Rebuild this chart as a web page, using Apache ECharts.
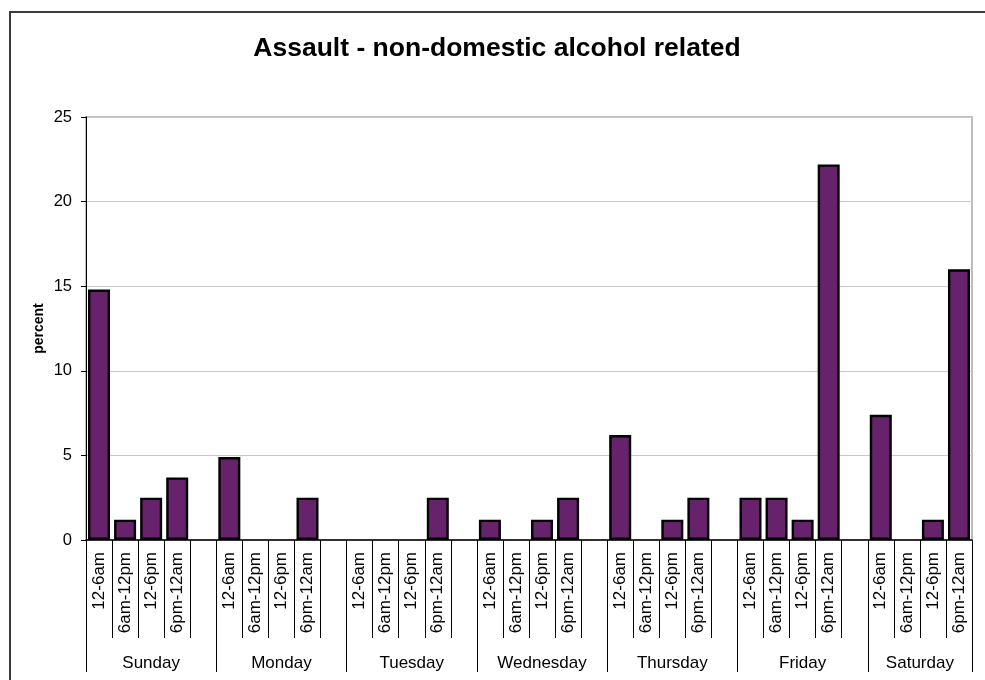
<!DOCTYPE html>
<html><head><meta charset="utf-8">
<script src="https://cdn.jsdelivr.net/npm/echarts@6/dist/echarts.min.js"></script>
<style>
html,body{margin:0;padding:0;background:#fff;overflow:hidden}
#frame{position:absolute;left:9px;top:11px;width:1200px;height:1000px;border-left:2px solid #3a3a3a;border-top:2px solid #3a3a3a;box-sizing:border-box}
#chart{position:absolute;left:0;top:0;width:985px;height:680px}
</style></head><body>
<div id="frame"></div><div id="chart"></div>
<script>
const titleText = 'Assault - non-domestic alcohol related';
const yAxisName = 'percent';
const days = ['Sunday', 'Monday', 'Tuesday', 'Wednesday', 'Thursday', 'Friday', 'Saturday'];
const slots = ['12-6am', '6am-12pm', '12-6pm', '6pm-12am'];
const sunday = [14.8, 1.2, 2.5, 3.7];
const monday = [4.9, 0, 0, 2.5];
const tuesday = [0, 0, 0, 2.5];
const wednesday = [1.2, 0, 1.2, 2.5];
const thursday = [6.2, 0, 1.2, 2.5];
const friday = [2.5, 2.5, 1.2, 22.2];
const saturday = [7.4, 0, 1.2, 16.0];
const yMin = 0, yMax = 25, yStep = 5;

const perDay = [sunday, monday, tuesday, wednesday, thursday, friday, saturday];
const categories = [];
const values = [];
const dayBounds = [];   // in half-category units
const dayCenters = {};
days.forEach((d, i) => {
  const start = categories.length;
  slots.forEach((s, j) => {
    categories.push(s);
    const v = perDay[i][j];
    values.push(v === 0 ? { value: 0, itemStyle: { borderWidth: 0 } } : v);
  });
  if (i < days.length - 1) { categories.push(''); values.push('-'); }
  const end = categories.length;
  dayBounds.push(2 * start);
  if (i === days.length - 1) dayBounds.push(2 * end);
  dayCenters[start + end] = d;
});
const halfCount = 2 * categories.length + 1;
const dayAxisData = [];
for (let k = 0; k < halfCount; k++) dayAxisData.push(dayCenters[k] || '');
const boundSet = new Set(dayBounds);

const font = 'Liberation Sans, Arial, sans-serif';
const chart = echarts.init(document.getElementById('chart'));
chart.setOption({
  animation: false,
  backgroundColor: 'transparent',
  title: {
    text: titleText, left: 492, top: 30, textAlign: 'center',
    textStyle: { fontFamily: font, fontSize: 26.5, fontWeight: 'bold', color: '#000' }
  },
  grid: { left: 86, right: 13, top: 117, bottom: 140, show: true, borderColor: '#bdbdbd', borderWidth: 2, backgroundColor: 'transparent' },
  xAxis: [{
    type: 'category', position: 'bottom', data: categories, boundaryGap: true,
    axisLine: { lineStyle: { color: '#000', width: 1.5 } },
    axisTick: { show: true, interval: 0, length: 98, lineStyle: { color: '#000', width: 1 } },
    axisLabel: { interval: 0, rotate: 90, margin: 12, fontFamily: font, fontSize: 17, color: '#000' },
    splitLine: { show: false }
  }, {
    type: 'category', position: 'bottom', data: dayAxisData, boundaryGap: false,
    axisLine: { show: false },
    axisTick: { show: true, length: 132, interval: (idx) => boundSet.has(idx), lineStyle: { color: '#000', width: 1 } },
    axisLabel: { interval: (idx, v) => v !== '', margin: 115, fontFamily: font, fontSize: 17, color: '#000' },
    splitLine: { show: false }
  }],
  yAxis: {
    type: 'value', min: yMin, max: yMax, interval: yStep,
    name: yAxisName, nameLocation: 'middle', nameGap: 40, nameMoveOverlap: false,
    nameTextStyle: { fontFamily: font, fontSize: 14, fontWeight: 'bold', color: '#000' },
    axisLine: { show: true, lineStyle: { color: '#000', width: 1 } },
    axisTick: { show: true, length: 5, lineStyle: { color: '#000' } },
    axisLabel: { margin: 14, fontFamily: font, fontSize: 16.5, color: '#000' },
    splitLine: { show: true, lineStyle: { color: '#c8c8c8', width: 1 } }
  },
  series: [{
    type: 'bar', xAxisIndex: 0, data: values, barWidth: 22,
    itemStyle: { color: '#66226A', borderColor: '#000', borderWidth: 2.4 }
  }]
});
</script>
</body></html>
